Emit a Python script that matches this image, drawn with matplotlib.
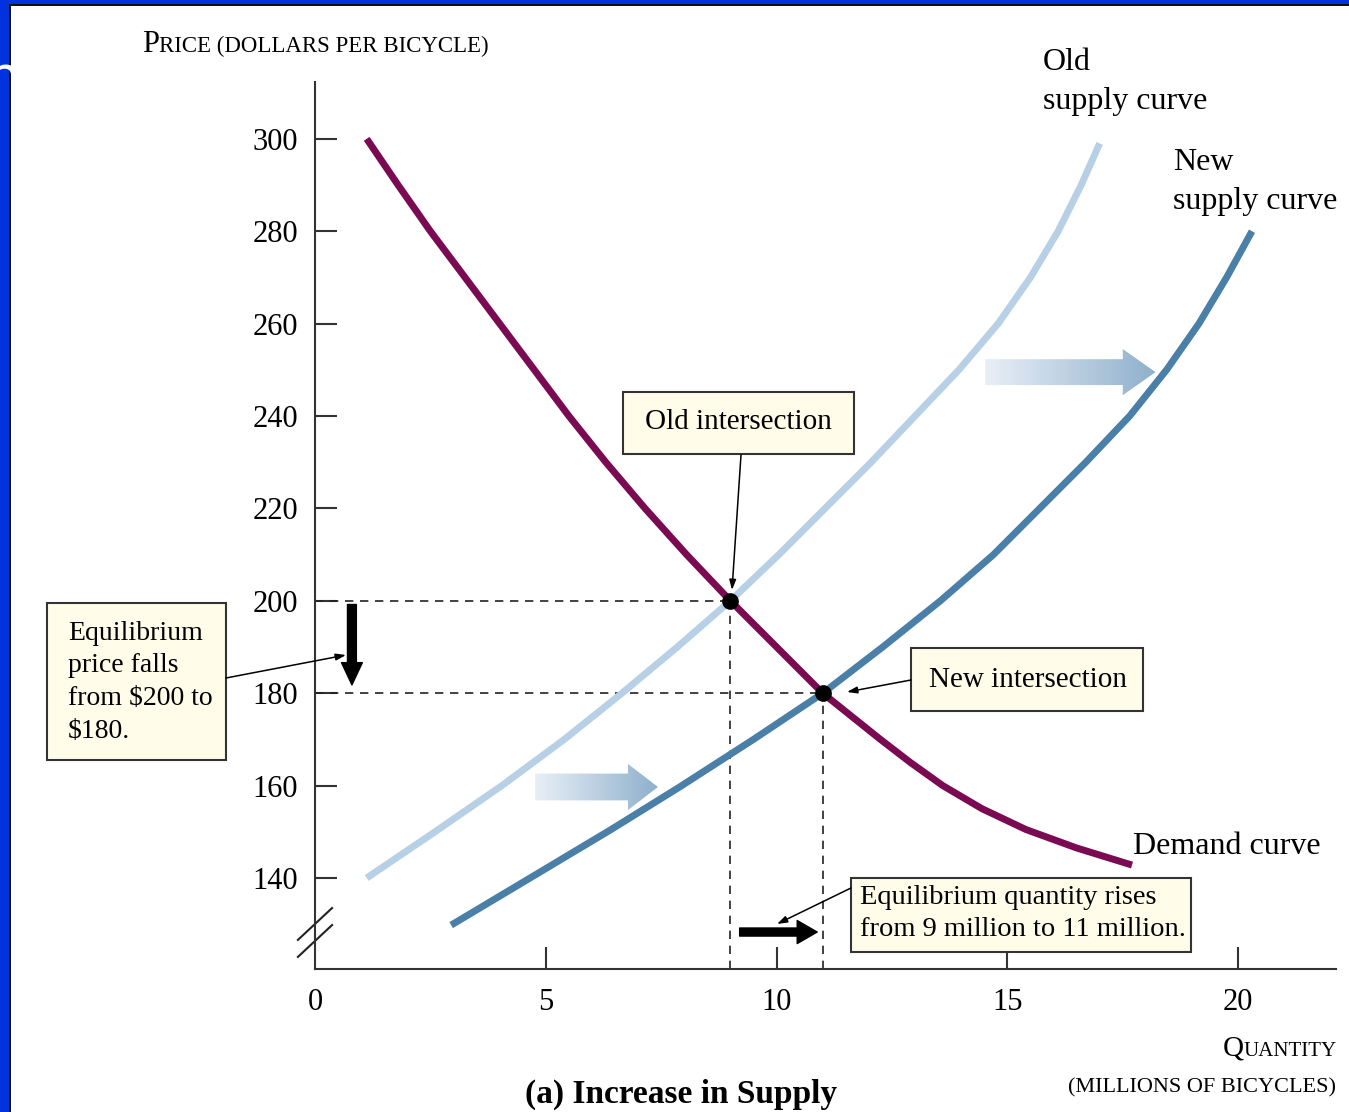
import matplotlib.pyplot as plt
import matplotlib.patches as mpatches
from matplotlib.path import Path
from matplotlib.colors import LinearSegmentedColormap
from matplotlib.offsetbox import TextArea, HPacker, AnnotationBbox
import numpy as np

# curve points (quantity, price)
demand_q = [1.12, 1.8, 2.5, 3.25, 4.0, 4.75, 5.5, 6.3, 7.15, 8.05, 9.0, 10.0,
            11.0, 12.25, 12.9, 13.6, 14.45, 15.4, 16.5, 17.7]
demand_p = [300, 290, 280, 270, 260, 250, 240, 230, 220, 210, 200, 190,
            180, 170, 165, 160, 155, 150.5, 146.5, 142.8]

old_q = [1.12, 2.6, 4.05, 5.4, 6.65, 7.85, 9.0, 10.05, 11.05, 12.05, 13.0,
         13.95, 14.8, 15.5, 16.1, 16.6, 17.0]
old_p = [140, 150, 160, 170, 180, 190, 200, 210, 220, 230, 240,
         250, 260, 270, 280, 290, 299]

new_q = [2.95, 4.66, 6.4, 7.9, 9.5, 11.0, 12.3, 13.55, 14.7, 15.7, 16.7,
         17.65, 18.45, 19.15, 19.75, 20.3]
new_p = [129.8, 140, 150.4, 159.7, 170, 180, 190, 200, 210, 220, 230,
         240, 250, 260, 270, 280]

eq_q = [9, 11]
eq_p = [200, 180]

x_ticks = [5, 10, 15, 20]
y_ticks = [140, 160, 180, 200, 220, 240, 260, 280, 300]

W, H = 1349, 1112
FONT = 'Liberation Serif'
plt.rcParams['font.family'] = FONT

fig = plt.figure(figsize=(W / 100, H / 100), dpi=100)
fig.patch.set_facecolor('white')


def fx(x):
    return x / W


def fy(y):
    return 1 - y / H


ax = fig.add_axes([fx(315), fy(969), fx(1336) - fx(315), fy(82) - fy(969)])
XLIM, YLIM = (0, 22.12), (120.3, 312.3)
for s in ['top', 'right']:
    ax.spines[s].set_visible(False)
for s in ['left', 'bottom']:
    ax.spines[s].set_color('#333333')
    ax.spines[s].set_linewidth(1.5)

ax.set_xticks([0] + x_ticks)
ax.set_xticklabels(['0'] + [str(t) for t in x_ticks])
ax.set_yticks(y_ticks)
ax.tick_params(direction='in', length=16, width=1.5, color='#333333',
               labelsize=22, pad=12)
ax.tick_params(axis='x', pad=14)
ax.xaxis.get_major_ticks()[0].tick1line.set_visible(False)

# dashed guide lines
for q, p in zip(eq_q, eq_p):
    ax.plot([0, q], [p, p], color='#222222', lw=1.2, ls=(0, (5, 4)))
    ax.plot([q, q], [YLIM[0], p], color='#222222', lw=1.2, ls=(0, (5, 4)))

style = dict(lw=5, solid_capstyle='butt', solid_joinstyle='round')
ax.plot(old_q, old_p, color='#b8d0e6', **style)
ax.plot(new_q, new_p, color='#4a7fa8', **style)
ax.plot(demand_q, demand_p, color='#7a0a52', **style)
ax.plot(eq_q, eq_p, 'o', color='black', ms=11, zorder=5)

# axis break marks
for dy in [0, 17]:
    ax.plot([-0.37, 0.37], [126.6 - dy / 4.617, 133.5 - dy / 4.617],
            color='#222222', lw=1.5, clip_on=False)

cmap = LinearSegmentedColormap.from_list('g', ['#e9eff7', '#8fb0cc'])


# gradient arrows
def grad_arrow(x0, xb, xt, yc, hs, hh):
    verts = [(x0, yc - hs), (xb, yc - hs), (xb, yc - hh), (xt, yc),
             (xb, yc + hh), (xb, yc + hs), (x0, yc + hs), (x0, yc - hs)]
    path = Path(verts, [Path.MOVETO] + [Path.LINETO] * 6 + [Path.CLOSEPOLY])
    patch = mpatches.PathPatch(path, facecolor='none', edgecolor='none')
    ax.add_patch(patch)
    grad = np.linspace(0, 1, 256).reshape(1, -1)
    im = ax.imshow(grad, extent=[x0, xt, yc - hh, yc + hh], aspect='auto',
                   cmap=cmap, zorder=2)
    im.set_clip_path(patch)


grad_arrow(14.52, 17.5, 18.21, 249.5, 2.8, 5.0)
grad_arrow(4.77, 6.78, 7.43, 159.7, 2.9, 5.0)
ax.set_xlim(*XLIM)
ax.set_ylim(*YLIM)

# black movement arrows
ax.annotate('', xy=(0.8, 181.8), xytext=(0.8, 199.2),
            arrowprops=dict(arrowstyle='simple,head_length=0.8,head_width=0.75,tail_width=0.32',
                            color='black', shrinkA=0, shrinkB=0, mutation_scale=20))
ax.annotate('', xy=(10.88, 128.3), xytext=(9.2, 128.3),
            arrowprops=dict(arrowstyle='simple,head_length=0.72,head_width=0.83,tail_width=0.29',
                            color='black', shrinkA=0, shrinkB=0, mutation_scale=20))


# annotation boxes in pixel coordinates
def box(x0, y0, x1, y1):
    r = mpatches.Rectangle((fx(x0), fy(y1)), fx(x1) - fx(x0), fy(y0) - fy(y1),
                           transform=fig.transFigure, facecolor='#fffdea',
                           edgecolor='#333333', lw=1.5, zorder=10)
    fig.patches.append(r)


def pointer(x0, y0, x1, y1):
    fig.add_artist(mpatches.FancyArrowPatch(
        (fx(x0), fy(y0)), (fx(x1), fy(y1)), transform=fig.transFigure,
        arrowstyle='-|>,head_length=6,head_width=2', color='black', lw=1.1,
        shrinkA=0, shrinkB=0, zorder=11))


box(623, 392, 854, 454)
fig.text(fx(738), fy(422), 'Old intersection', ha='center', va='center',
         fontsize=21, zorder=12)
pointer(741, 455, 732, 590)

box(911, 648, 1143, 711)
fig.text(fx(1028), fy(680), 'New intersection', ha='center', va='center',
         fontsize=21, zorder=12)
pointer(911, 680, 847, 692)

box(47, 603, 226, 760)
for i, line in enumerate(['Equilibrium', 'price falls', 'from $200 to', '$180.']):
    fig.text(fx(68), fy(633 + 32.7 * i), line, ha='left', va='center',
             fontsize=20, zorder=12)
pointer(226, 678, 346, 655)

box(851, 878, 1191, 952)
for i, line in enumerate(['Equilibrium quantity rises',
                          'from 9 million to 11 million.']):
    fig.text(fx(860), fy(898 + 32 * i), line, ha='left', va='center',
             fontsize=20.5, zorder=12)
pointer(851, 888, 777, 924)

# curve labels
fig.text(fx(1043), fy(62), 'Old', ha='left', va='center', fontsize=23)
fig.text(fx(1043), fy(101), 'supply curve', ha='left', va='center', fontsize=23)
fig.text(fx(1173), fy(162), 'New', ha='left', va='center', fontsize=23)
fig.text(fx(1173), fy(201), 'supply curve', ha='left', va='center', fontsize=23)
fig.text(fx(1133), fy(846), 'Demand curve', ha='left', va='center', fontsize=23)

# axis titles in small caps
price = HPacker(children=[TextArea('P', textprops=dict(fontsize=22, family=FONT)),
                          TextArea('RICE (DOLLARS PER BICYCLE)',
                                   textprops=dict(fontsize=16.5, family=FONT))],
                align='baseline', pad=0, sep=0)
fig.add_artist(AnnotationBbox(price, (fx(142), fy(45)), xycoords='figure fraction',
                              box_alignment=(0, 0.5), frameon=False))
qty = HPacker(children=[TextArea('Q', textprops=dict(fontsize=21, family=FONT)),
                        TextArea('UANTITY', textprops=dict(fontsize=15, family=FONT))],
              align='baseline', pad=0, sep=0)
fig.add_artist(AnnotationBbox(qty, (fx(1337), fy(1049)), xycoords='figure fraction',
                              box_alignment=(1, 0.5), frameon=False))
fig.text(fx(1336), fy(1088), '(MILLIONS OF BICYCLES)', ha='right', va='center',
         fontsize=16)

fig.text(fx(681), fy(1094), '(a) Increase in Supply', ha='center', va='center',
         fontsize=24, fontweight='bold')

# slide frame
fig.patches.append(mpatches.Rectangle((0, 0), fx(10), 1, transform=fig.transFigure,
                                      facecolor='#0033dd', edgecolor='none'))
fig.patches.append(mpatches.Rectangle((0, fy(4)), 1, fy(0) - fy(4),
                                      transform=fig.transFigure,
                                      facecolor='#0033dd', edgecolor='none'))
fig.patches.append(mpatches.Rectangle((fx(9), 0), fx(2), fy(4),
                                      transform=fig.transFigure,
                                      facecolor='#111111', edgecolor='none'))
fig.patches.append(mpatches.Rectangle((fx(9), fy(6)), 1, fy(4) - fy(6),
                                      transform=fig.transFigure,
                                      facecolor='#111111', edgecolor='none'))
fig.text(fx(-14), fy(80), 'n', color='white', fontsize=40, family='DejaVu Sans',
         ha='left', va='center')

fig.savefig('out.png', dpi=100)
